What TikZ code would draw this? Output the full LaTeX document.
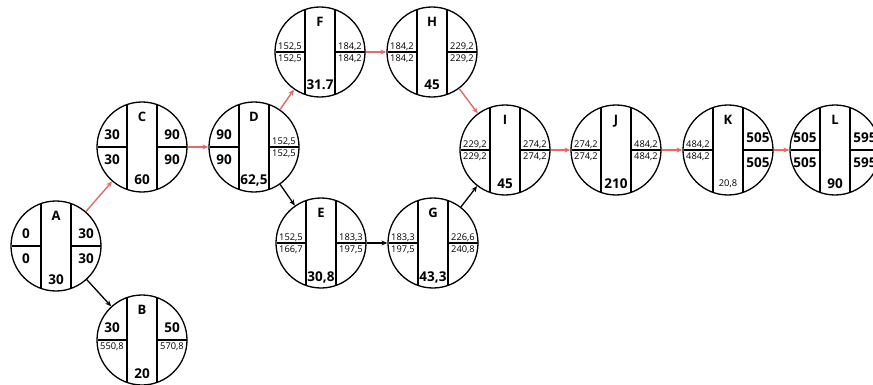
\documentclass[tikz,border=0pt]{standalone}
\usepackage{fontspec}
\setmainfont{Open Sans}
\usetikzlibrary{arrows.meta}

\definecolor{critred}{RGB}{230,105,105}

\tikzset{
  disc/.style={circle, draw, line width=1.3pt, minimum size=90pt, inner sep=0pt},
  rule/.style={line width=1.2pt},
  tag/.style={font=\fontsize{13}{13}\selectfont\bfseries, inner sep=0pt, text height=9.5pt, text depth=0pt},
  bigv/.style={font=\fontsize{13.5}{13.5}\selectfont\bfseries, inner xsep=0pt, inner ysep=7pt, text height=10pt, text depth=0pt},
  smallv/.style={font=\fontsize{9.3}{9.3}\selectfont, inner xsep=0pt, inner ysep=2.2pt, text height=6.7pt, text depth=0pt},
  crit/.style={draw=critred, line width=1.4pt, -{Stealth[length=6pt,width=5pt]}},
  plain/.style={draw=black, line width=1.3pt, -{Stealth[length=6pt,width=5pt]}},
}

% #1 name, #2 x, #3 y (down), #4 letter,
% #5 early start, #6 late start, #7 early finish, #8 late finish, #9 duration
% each value is given as [style]{text}
\newcommand\pertdisc[9]{%
  \begin{scope}[shift={(#2,-#3)}]
    \node[disc] (#1) at (0,0) {};
    \draw[rule] (-15,-42.4) -- (-15,42.4) (15,-42.4) -- (15,42.4)
                (-44.5,0) -- (-15,0) (15,0) -- (44.5,0);
    \node[tag] (#1-id) at (0,30) {#4};
    \node[anchor=south] (#1-es) at (-30,0) #5;
    \node[anchor=north] (#1-ls) at (-30,0) #6;
    \node[anchor=south] (#1-ef) at (30,0) #7;
    \node[anchor=north] (#1-lf) at (30,0) #8;
    \node[inner sep=0pt] (#1-du) at (0,-33) #9;
  \end{scope}}

\begin{document}
\begin{tikzpicture}[x=1pt,y=1pt]
  \useasboundingbox (0,0) rectangle (873,-385);
  \fill[white] (0,0) rectangle (873,-385);

  \pertdisc{A}{56}{246}{A}{[bigv]{0}}{[bigv]{0}}{[bigv]{30}}{[bigv]{30}}{[bigv]{30}}
  \pertdisc{B}{142}{340}{B}{[bigv]{30}}{[smallv]{550,8}}{[bigv]{50}}{[smallv]{570,8}}{[bigv]{20}}
  \pertdisc{C}{142}{147}{C}{[bigv]{30}}{[bigv]{30}}{[bigv]{90}}{[bigv]{90}}{[bigv]{60}}
  \pertdisc{D}{254}{147}{D}{[bigv]{90}}{[bigv]{90}}{[smallv]{152,5}}{[smallv]{152,5}}{[bigv]{62,5}}
  \pertdisc{F}{320}{52}{F}{[smallv]{152,5}}{[smallv]{152,5}}{[smallv]{184,2}}{[smallv]{184,2}}{[bigv]{31.7}}
  \pertdisc{H}{432}{52}{H}{[smallv]{184,2}}{[smallv]{184,2}}{[smallv]{229,2}}{[smallv]{229,2}}{[bigv]{45}}
  \pertdisc{E}{321}{243}{E}{[smallv]{152,5}}{[smallv]{166,7}}{[smallv]{183,3}}{[smallv]{197,5}}{[bigv]{30,8}}
  \pertdisc{G}{433}{243}{G}{[smallv]{183,3}}{[smallv]{197,5}}{[smallv]{226,6}}{[smallv]{240,8}}{[bigv]{43,3}}
  \pertdisc{I}{505}{150}{I}{[smallv]{229,2}}{[smallv]{229,2}}{[smallv]{274,2}}{[smallv]{274,2}}{[bigv]{45}}
  \pertdisc{J}{616}{150}{J}{[smallv]{274,2}}{[smallv]{274,2}}{[smallv]{484,2}}{[smallv]{484,2}}{[bigv]{210}}
  \pertdisc{K}{728}{150}{K}{[smallv]{484,2}}{[smallv]{484,2}}{[bigv]{505}}{[bigv]{505}}{[smallv]{20,8}}
  \pertdisc{L}{835}{150}{L}{[bigv]{505}}{[bigv]{505}}{[bigv]{595}}{[bigv]{595}}{[bigv]{90}}

  % critical path
  \draw[crit] (A) -- (C);
  \draw[crit] (C) -- (D);
  \draw[crit] (D) -- (F);
  \draw[crit] (F) -- (H);
  \draw[crit] (H) -- (I);
  \draw[crit] (I) -- (J);
  \draw[crit] (J) -- (K);
  \draw[crit] (K) -- (L);

  % other activities
  \draw[plain] (A) -- (B);
  \draw[plain] (D) -- (E);
  \draw[plain] (E) -- (G);
  \draw[plain] (G) -- (I);
\end{tikzpicture}
\end{document}
